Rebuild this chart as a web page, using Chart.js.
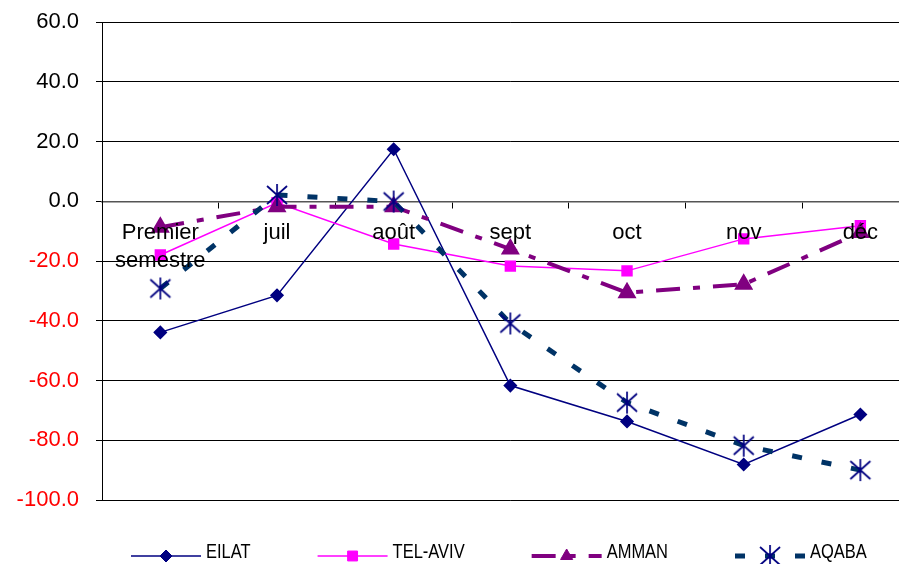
<!DOCTYPE html>
<html>
<head>
<meta charset="utf-8">
<script src="https://cdn.jsdelivr.net/npm/chart.js@4/dist/chart.umd.min.js"></script>
<style>
  html, body { margin: 0; padding: 0; overflow: hidden; background: #ffffff; }
  canvas { display: block; }
</style>
</head>
<body>
<canvas id="chart" width="920" height="564"></canvas>
<script>
// Months along the category axis
const categories = [['Premier', 'semestre'], 'juil', 'août', 'sept', 'oct', 'nov', 'déc'];

// Monthly change per city (%)
const eilat   = [-43.9, -31.5, 17.4, -61.7, -73.7, -88.1, -71.4];
const telAviv = [-18.0,  -0.5, -14.3, -21.7, -23.3, -12.6,  -8.2];
const amman   = [ -8.7,  -1.8,  -1.8, -16.0, -30.6, -27.8, -10.5];
const aqaba   = [-29.2,   2.1,  -0.1, -40.9, -67.4, -81.8, -90.0];

// Value axis range
const yMin = -100;
const yMax = 60;
const yStep = 20;

// Asterisk-shaped marker (vertical bar crossed by an X)
function makeStarMarker() {
  const c = document.createElement('canvas');
  c.width = 24; c.height = 24;
  const g = c.getContext('2d');
  g.strokeStyle = '#000080';
  g.lineWidth = 1.7;
  g.beginPath();
  g.moveTo(12, 1);   g.lineTo(12, 23);
  g.moveTo(2, 3);    g.lineTo(22, 21);
  g.moveTo(22, 3);   g.lineTo(2, 21);
  g.stroke();
  return c;
}
const starMarker = makeStarMarker();

// Bottom legend: line sample with its marker, then the series name
const lineLegend = {
  id: 'lineLegend',
  afterDraw(chart) {
    const ctx = chart.ctx;
    const sampleLen = 70;
    const textGap = 5;
    const itemGap = 67;
    const squeeze = 0.785;
    const lineY = 556;
    const textY = 552.5;
    let x = 131;
    ctx.save();
    ctx.font = '21px "Liberation Sans", Arial, sans-serif';
    ctx.textBaseline = 'middle';
    ctx.textAlign = 'left';
    chart.data.datasets.forEach(ds => {
      // line sample
      ctx.save();
      ctx.strokeStyle = ds.borderColor;
      ctx.lineWidth = ds.borderWidth;
      ctx.setLineDash(ds.borderDash || []);
      ctx.lineCap = 'butt';
      ctx.beginPath();
      ctx.moveTo(x, lineY);
      ctx.lineTo(x + sampleLen, lineY);
      ctx.stroke();
      ctx.restore();
      // marker
      ctx.save();
      ctx.fillStyle = ds.pointBackgroundColor || ds.backgroundColor;
      ctx.strokeStyle = ds.pointBorderColor || ds.borderColor;
      ctx.setLineDash([]);
      ctx.lineWidth = 1;
      Chart.helpers.drawPoint(ctx, {
        pointStyle: ds.pointStyle,
        radius: ds.pointRadius,
        rotation: 0,
        borderWidth: 1
      }, x + sampleLen / 2, lineY);
      ctx.restore();
      // label, slightly condensed
      const tx = x + sampleLen + textGap;
      const w = ctx.measureText(ds.label).width * squeeze;
      ctx.save();
      ctx.fillStyle = '#000000';
      ctx.translate(tx, textY);
      ctx.scale(squeeze, 1);
      ctx.fillText(ds.label, 0, 0);
      ctx.restore();
      x = tx + w + itemGap;
    });
    ctx.restore();
  }
};

new Chart(document.getElementById('chart'), {
  type: 'line',
  data: {
    labels: categories,
    datasets: [
      {
        label: 'EILAT',
        data: eilat,
        borderColor: '#000080',
        backgroundColor: '#000080',
        pointBackgroundColor: '#000080',
        pointBorderColor: '#000080',
        borderWidth: 1.5,
        pointStyle: 'rectRot',
        pointRadius: 6,
        order: 4
      },
      {
        label: 'TEL-AVIV',
        data: telAviv,
        borderColor: '#FF00FF',
        backgroundColor: '#FF00FF',
        pointBackgroundColor: '#FF00FF',
        pointBorderColor: '#FF00FF',
        borderWidth: 1.5,
        pointStyle: 'rect',
        pointRadius: 7,
        order: 3
      },
      {
        label: 'AMMAN',
        data: amman,
        borderColor: '#800080',
        backgroundColor: '#800080',
        pointBackgroundColor: '#800080',
        pointBorderColor: '#800080',
        borderWidth: 4,
        borderDash: [24, 13, 7, 13],
        pointStyle: 'triangle',
        pointRadius: 7,
        order: 2
      },
      {
        label: 'AQABA',
        data: aqaba,
        borderColor: '#003366',
        backgroundColor: '#000080',
        pointBackgroundColor: '#000080',
        pointBorderColor: '#000080',
        borderWidth: 5,
        borderDash: [10, 20],
        pointStyle: starMarker,
        pointRadius: 11,
        order: 1
      }
    ]
  },
  options: {
    responsive: false,
    animation: false,
    devicePixelRatio: 1,
    // the plot runs a little past the visible right edge
    layout: { autoPadding: false, padding: { left: 0, top: 22, right: 1.3, bottom: 64 } },
    elements: { line: { tension: 0, borderCapStyle: 'butt' }, point: { borderWidth: 1 } },
    plugins: {
      legend: { display: false },
      tooltip: { enabled: false }
    },
    scales: {
      x: {
        type: 'category',
        position: { y: 0 },
        offset: true,
        afterFit(scale) {
          scale.paddingLeft = 0;
          scale.paddingRight = 0;
        },
        grid: {
          offset: true,
          drawOnChartArea: false,
          drawTicks: true,
          tickLength: 6,
          color: '#000000'
        },
        border: { display: true, color: '#555555', width: 1.5 },
        ticks: {
          z: 1,
          autoSkip: false,
          maxRotation: 0,
          minRotation: 0,
          padding: 12,
          color: '#000000',
          font: { family: '"Liberation Sans", Arial, sans-serif', size: 22, lineHeight: 1.27 }
        }
      },
      y: {
        min: yMin,
        max: yMax,
        afterFit(scale) {
          scale.width = 102;
          scale.paddingTop = 0;
          scale.paddingBottom = 0;
        },
        grid: {
          color: '#000000',
          lineWidth: 1,
          drawTicks: true,
          tickLength: 6
        },
        border: { display: true, color: '#000000', width: 1 },
        ticks: {
          stepSize: yStep,
          padding: 17,
          font: { family: '"Liberation Sans", Arial, sans-serif', size: 22 },
          color: ctx => (ctx.tick && ctx.tick.value < 0) ? '#FF0000' : '#000000',
          callback: v => Number(v).toFixed(1)
        }
      }
    }
  },
  plugins: [lineLegend]
});
</script>
</body>
</html>
